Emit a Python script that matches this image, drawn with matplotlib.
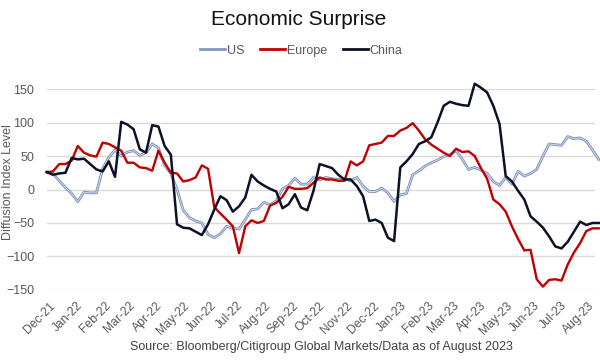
import matplotlib
matplotlib.use('Agg')
import matplotlib.pyplot as plt
import matplotlib.dates as mdates
from matplotlib.lines import Line2D
import pandas as pd

dates = pd.date_range('2021-11-28', periods=90, freq='W')

us = [26, 24, 13, 3, -6, -18, -4, -5, -5, 31,
      48, 59, 50, 56, 58, 51, 55, 68, 62, 36,
      24, 0, -31, -42, -47, -50, -67, -72, -66, -55,
      -58, -59, -45, -30, -29, -19, -23, -17, 1, 6,
      17, 8, 8, 18, 14, 18, 16, 15, 16, 13,
      18, 5, -3, -3, 2, -5, -18, -8, -6, 22,
      28, 35, 40, 44, 49, 52, 58, 45, 30, 33,
      29, 24, 12, 6, 18, 8, 27, 20, 24, 30,
      50, 68, 67, 66, 79, 76, 77, 72, 59, 45]

europe = [26, 27, 38, 38, 43, 65, 55, 51, 49, 70,
          68, 63, 58, 40, 40, 33, 32, 28, 58, 40,
          25, 24, 12, 14, 18, 36, 31, -26, -36, -45,
          -55, -95, -55, -46, -50, -47, -24, -20, -11, 4,
          1, 1, 2, 10, 18, 15, 15, 13, 13, 42,
          36, 42, 66, 68, 70, 80, 80, 88, 92, 99,
          88, 75, 67, 61, 55, 50, 61, 56, 57, 50,
          32, 16, -15, -22, -33, -55, -74, -91, -90, -134,
          -145, -135, -134, -136, -112, -94, -80, -62, -58, -58]

china = [26, 22, 24, 25, 47, 45, 46, 38, 30, 27,
         42, 19, 101, 97, 90, 60, 55, 96, 94, 65,
         52, -52, -57, -58, -63, -68, -52, -30, -10, -16,
         -33, -25, -12, 22, 12, 6, 1, -3, -28, -22,
         -7, -27, -31, -2, 38, 35, 32, 22, 15, 15,
         5, -10, -47, -45, -50, -72, -77, 33, 42, 53,
         68, 72, 78, 100, 125, 131, 128, 126, 125, 158,
         152, 145, 125, 98, 20, 12, -2, -15, -40, -48,
         -57, -70, -85, -88, -78, -63, -48, -53, -50, -50]

yticks = [-150, -100, -50, 0, 50, 100, 150]

plt.rcParams['font.family'] = ['Liberation Sans', 'DejaVu Sans']
grey = '#595959'

fig = plt.figure(figsize=(6, 3.62), dpi=100)
ax = fig.add_axes([0.078, 0.199, 0.914, 0.555])

# US line drawn as a hollow light-blue stroke
ax.plot(dates, us, color='#7d90bb', lw=2.0, clip_on=False, zorder=3)
ax.plot(dates, us, color='#dce3f0', lw=0.6, clip_on=False, zorder=3.1)
ax.plot(dates, europe, color='#c00000', lw=1.7, clip_on=False, zorder=4)
ax.plot(dates, china, color='#0c1226', lw=1.8, clip_on=False, zorder=5)

ax.set_ylim(-150, 150)
ax.set_yticks(yticks)
ax.set_xlim(pd.Timestamp('2021-11-28'), pd.Timestamp('2023-08-09'))
ax.xaxis.set_major_locator(mdates.MonthLocator())
ax.xaxis.set_major_formatter(mdates.DateFormatter('%b-%y'))

ax.grid(axis='y', color='#d9d9d9', lw=1)
ax.set_axisbelow(True)
for s in ax.spines.values():
    s.set_visible(False)
ax.tick_params(axis='both', length=0, colors=grey, labelsize=9)
ax.tick_params(axis='x', pad=7, labelsize=8.7)
ax.tick_params(axis='y', pad=9)
for lab in ax.get_xticklabels():
    lab.set_rotation(45)
    lab.set_ha('right')
    lab.set_rotation_mode('anchor')

fig.text(0.498, 0.945, 'Economic Surprise', ha='center', va='center', fontsize=15, color='#111111')
fig.text(0.014, 0.497, 'Diffusion Index Level', rotation=90, ha='center', va='center',
         fontsize=9, color=grey)
fig.text(0.536, 0.041, 'Source: Bloomberg/Citigroup Global Markets/Data as of August 2023',
         ha='center', va='center', fontsize=9, color='#404040')

# legend handles
handles = [Line2D([], [], color='#8597c0', lw=2),
           Line2D([], [], color='#c00000', lw=2),
           Line2D([], [], color='#0c1226', lw=2)]
leg = fig.legend(handles, ['US', 'Europe', 'China'], loc='center', bbox_to_anchor=(0.502, 0.86),
                 ncol=3, frameon=False, fontsize=9, handlelength=2.0, handletextpad=0.1,
                 columnspacing=1.3)
for t in leg.get_texts():
    t.set_color(grey)

fig.savefig('out.png', dpi=100)
